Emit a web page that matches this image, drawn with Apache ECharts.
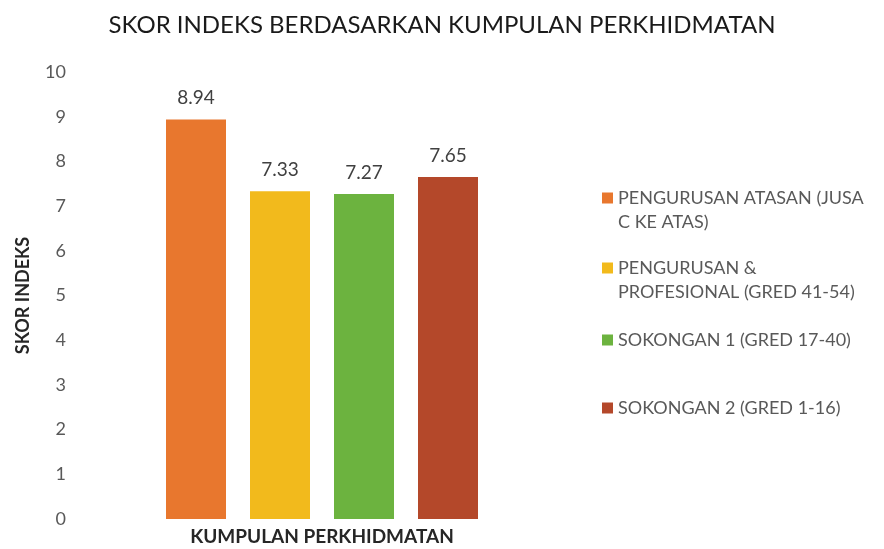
<!DOCTYPE html>
<html>
<head>
<meta charset="utf-8">
<script src="https://cdn.jsdelivr.net/npm/echarts@6/dist/echarts.min.js"></script>
<style>
  html, body { margin: 0; padding: 0; background: #fff; }
  #chart { width: 884px; height: 549px; }
</style>
</head>
<body>
<div id="chart"></div>
<script>
// data
var categories = ['KUMPULAN PERKHIDMATAN']
var seriesNames = [
  'PENGURUSAN ATASAN (JUSA C KE ATAS)',
  'PENGURUSAN & PROFESIONAL (GRED 41-54)',
  'SOKONGAN 1 (GRED 17-40)',
  'SOKONGAN 2 (GRED 1-16)'
]
var legendLabels = [
  'PENGURUSAN ATASAN (JUSA\nC KE ATAS)',
  'PENGURUSAN &\nPROFESIONAL (GRED 41-54)',
  'SOKONGAN 1 (GRED 17-40)',
  'SOKONGAN 2 (GRED 1-16)'
]
var seriesValues = [8.94, 7.33, 7.27, 7.65]
var colors = ['#E8772E', '#F2BA1C', '#6CB33F', '#B4482A']
var legendTops = [157, 227, 323, 391]

var font = 'Lato, "Open Sans", sans-serif'

var chart = echarts.init(document.getElementById('chart'))

var legends = seriesNames.map(function(name, i) {
  var twoLines = legendLabels[i].indexOf('\n') >= 0
  return {
    data: [name],
    left: 597,
    top: legendTops[i],
    itemWidth: 11,
    itemHeight: 11,
    itemGap: 6,
    icon: 'rect',
    selectedMode: false,
    formatter: function() {
      // blank first line keeps the icon level with the first text line
      return twoLines ? ' \n' + legendLabels[i] : legendLabels[i]
    },
    textStyle: {
      color: '#595959',
      fontSize: 18,
      fontFamily: font,
      lineHeight: 24
    }
  }
})

var series = seriesNames.map(function(name, i) {
  return {
    name: name,
    type: 'bar',
    data: [seriesValues[i]],
    barWidth: 60,
    barGap: '40%',
    itemStyle: { color: colors[i] },
    label: {
      show: true,
      position: 'top',
      distance: 12,
      color: '#404040',
      fontSize: 19,
      fontFamily: font
    }
  }
})

chart.setOption({
  animation: false,
  title: {
    text: 'SKOR INDEKS BERDASARKAN KUMPULAN PERKHIDMATAN',
    left: 437,
    top: 8,
    textAlign: 'center',
    textStyle: {
      color: '#1a1a1a',
      fontSize: 24,
      fontWeight: 'normal',
      fontFamily: font
    }
  },
  color: colors,
  legend: legends,
  grid: {
    left: 80,
    right: 320,
    top: 72,
    bottom: 30,
    outerBoundsMode: 'none'
  },
  xAxis: {
    type: 'category',
    data: categories,
    axisLine: { show: false },
    axisTick: { show: false },
    axisLabel: { show: false },
    name: 'KUMPULAN PERKHIDMATAN',
    nameLocation: 'middle',
    nameGap: 8,
    nameTextStyle: {
      color: '#262626',
      fontSize: 19,
      fontWeight: 'bold',
      fontFamily: font
    }
  },
  yAxis: {
    type: 'value',
    min: 0,
    max: 10,
    interval: 1,
    splitLine: { show: false },
    axisLine: { show: false },
    axisTick: { show: false },
    axisLabel: {
      margin: 14,
      color: '#595959',
      fontSize: 18,
      fontFamily: font
    },
    name: 'SKOR INDEKS',
    nameLocation: 'middle',
    nameGap: 48,
    nameTextStyle: {
      color: '#262626',
      fontSize: 18,
      fontWeight: 'bold',
      fontFamily: font
    }
  },
  series: series
})
</script>
</body>
</html>
